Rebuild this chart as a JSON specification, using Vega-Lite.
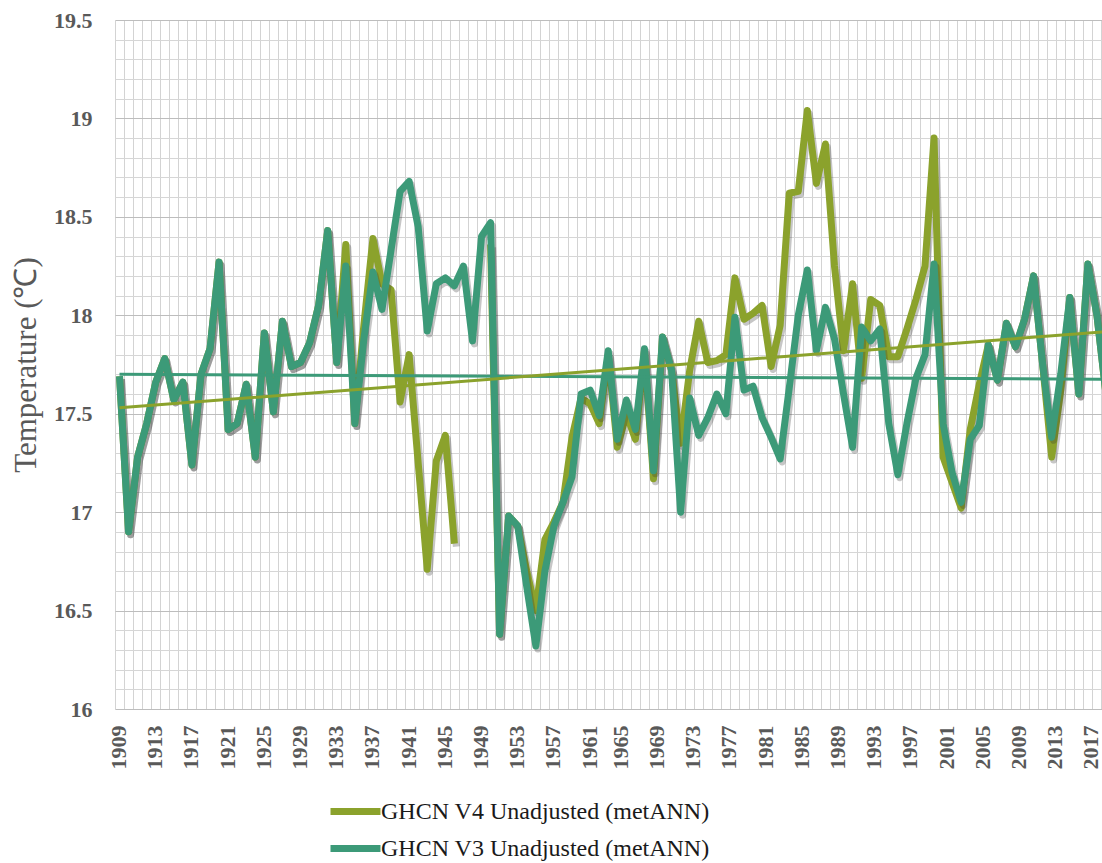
{
  "$schema": "https://vega.github.io/schema/vega-lite/v6.json",
  "width": 987,
  "height": 689,
  "autosize": {"type": "none"},
  "padding": {"left": 115, "top": 20, "right": 0, "bottom": 154},
  "background": "white",
  "data": {"values": [
    {"year": 1909, "v3": 17.69, "v4": 17.69},
    {"year": 1910, "v3": 16.90, "v4": 16.90},
    {"year": 1911, "v3": 17.28, "v4": 17.28},
    {"year": 1912, "v3": 17.45, "v4": 17.45},
    {"year": 1913, "v3": 17.66, "v4": 17.66},
    {"year": 1914, "v3": 17.78, "v4": 17.78},
    {"year": 1915, "v3": 17.57, "v4": 17.57},
    {"year": 1916, "v3": 17.66, "v4": 17.66},
    {"year": 1917, "v3": 17.24, "v4": 17.24},
    {"year": 1918, "v3": 17.70, "v4": 17.70},
    {"year": 1919, "v3": 17.83, "v4": 17.83},
    {"year": 1920, "v3": 18.27, "v4": 18.27},
    {"year": 1921, "v3": 17.42, "v4": 17.42},
    {"year": 1922, "v3": 17.45, "v4": 17.45},
    {"year": 1923, "v3": 17.65, "v4": 17.65},
    {"year": 1924, "v3": 17.28, "v4": 17.28},
    {"year": 1925, "v3": 17.91, "v4": 17.91},
    {"year": 1926, "v3": 17.51, "v4": 17.51},
    {"year": 1927, "v3": 17.97, "v4": 17.97},
    {"year": 1928, "v3": 17.74, "v4": 17.74},
    {"year": 1929, "v3": 17.76, "v4": 17.76},
    {"year": 1930, "v3": 17.86, "v4": 17.86},
    {"year": 1931, "v3": 18.05, "v4": 18.05},
    {"year": 1932, "v3": 18.43, "v4": 18.43},
    {"year": 1933, "v3": 17.76, "v4": 17.76},
    {"year": 1934, "v3": 18.25, "v4": 18.36},
    {"year": 1935, "v3": 17.45, "v4": 17.45},
    {"year": 1936, "v3": 17.88, "v4": 17.95},
    {"year": 1937, "v3": 18.22, "v4": 18.39},
    {"year": 1938, "v3": 18.03, "v4": 18.16},
    {"year": 1939, "v3": 18.33, "v4": 18.13},
    {"year": 1940, "v3": 18.63, "v4": 17.56},
    {"year": 1941, "v3": 18.68, "v4": 17.80},
    {"year": 1942, "v3": 18.45, "v4": 17.25},
    {"year": 1943, "v3": 17.92, "v4": 16.71},
    {"year": 1944, "v3": 18.16, "v4": 17.26},
    {"year": 1945, "v3": 18.19, "v4": 17.39},
    {"year": 1946, "v3": 18.15, "v4": 16.84},
    {"year": 1947, "v3": 18.25, "v4": null},
    {"year": 1948, "v3": 17.87, "v4": null},
    {"year": 1949, "v3": 18.40, "v4": null},
    {"year": 1950, "v3": 18.47, "v4": 18.36},
    {"year": 1951, "v3": 16.38, "v4": 16.38},
    {"year": 1952, "v3": 16.98, "v4": 16.98},
    {"year": 1953, "v3": 16.93, "v4": 16.93},
    {"year": 1954, "v3": 16.62, "v4": 16.70},
    {"year": 1955, "v3": 16.32, "v4": 16.50},
    {"year": 1956, "v3": 16.70, "v4": 16.86},
    {"year": 1957, "v3": 16.93, "v4": 16.95},
    {"year": 1958, "v3": 17.05, "v4": 17.05},
    {"year": 1959, "v3": 17.18, "v4": 17.38},
    {"year": 1960, "v3": 17.60, "v4": 17.58},
    {"year": 1961, "v3": 17.62, "v4": 17.55},
    {"year": 1962, "v3": 17.49, "v4": 17.45},
    {"year": 1963, "v3": 17.82, "v4": 17.80},
    {"year": 1964, "v3": 17.37, "v4": 17.33},
    {"year": 1965, "v3": 17.57, "v4": 17.50},
    {"year": 1966, "v3": 17.42, "v4": 17.37},
    {"year": 1967, "v3": 17.83, "v4": 17.82},
    {"year": 1968, "v3": 17.21, "v4": 17.17},
    {"year": 1969, "v3": 17.89, "v4": 17.89},
    {"year": 1970, "v3": 17.72, "v4": 17.72},
    {"year": 1971, "v3": 17.00, "v4": 17.35},
    {"year": 1972, "v3": 17.58, "v4": 17.72},
    {"year": 1973, "v3": 17.39, "v4": 17.97},
    {"year": 1974, "v3": 17.48, "v4": 17.76},
    {"year": 1975, "v3": 17.60, "v4": 17.77},
    {"year": 1976, "v3": 17.50, "v4": 17.80},
    {"year": 1977, "v3": 17.99, "v4": 18.19},
    {"year": 1978, "v3": 17.62, "v4": 17.98},
    {"year": 1979, "v3": 17.64, "v4": 18.01},
    {"year": 1980, "v3": 17.48, "v4": 18.05},
    {"year": 1981, "v3": 17.38, "v4": 17.74},
    {"year": 1982, "v3": 17.27, "v4": 17.95},
    {"year": 1983, "v3": 17.63, "v4": 18.62},
    {"year": 1984, "v3": 18.00, "v4": 18.63},
    {"year": 1985, "v3": 18.23, "v4": 19.04},
    {"year": 1986, "v3": 17.82, "v4": 18.67},
    {"year": 1987, "v3": 18.04, "v4": 18.87},
    {"year": 1988, "v3": 17.88, "v4": 18.25},
    {"year": 1989, "v3": 17.60, "v4": 17.82},
    {"year": 1990, "v3": 17.33, "v4": 18.16},
    {"year": 1991, "v3": 17.94, "v4": 17.68},
    {"year": 1992, "v3": 17.87, "v4": 18.08},
    {"year": 1993, "v3": 17.93, "v4": 18.05},
    {"year": 1994, "v3": 17.45, "v4": 17.79},
    {"year": 1995, "v3": 17.19, "v4": 17.79},
    {"year": 1996, "v3": 17.45, "v4": 17.93},
    {"year": 1997, "v3": 17.68, "v4": 18.08},
    {"year": 1998, "v3": 17.80, "v4": 18.25},
    {"year": 1999, "v3": 18.26, "v4": 18.90},
    {"year": 2000, "v3": 17.45, "v4": 17.28},
    {"year": 2001, "v3": 17.20, "v4": 17.15},
    {"year": 2002, "v3": 17.05, "v4": 17.02},
    {"year": 2003, "v3": 17.37, "v4": 17.42},
    {"year": 2004, "v3": 17.44, "v4": 17.65},
    {"year": 2005, "v3": 17.85, "v4": 17.85},
    {"year": 2006, "v3": 17.67, "v4": 17.67},
    {"year": 2007, "v3": 17.96, "v4": 17.96},
    {"year": 2008, "v3": 17.84, "v4": 17.84},
    {"year": 2009, "v3": 17.98, "v4": 17.98},
    {"year": 2010, "v3": 18.20, "v4": 18.20},
    {"year": 2011, "v3": 17.75, "v4": 17.75},
    {"year": 2012, "v3": 17.38, "v4": 17.28},
    {"year": 2013, "v3": 17.70, "v4": 17.62},
    {"year": 2014, "v3": 18.09, "v4": 18.09},
    {"year": 2015, "v3": 17.60, "v4": 17.60},
    {"year": 2016, "v3": 18.26, "v4": 18.26},
    {"year": 2017, "v3": 18.00, "v4": 18.00},
    {"year": 2018, "v3": 17.60, "v4": 17.60}
  ]},
  "encoding": {
    "x": {
      "field": "year",
      "type": "quantitative",
      "scale": {"domain": [1908.5, 2017.56], "nice": false, "zero": false},
      "axis": {
        "orient": "bottom",
        "tickCount": 218,
        "grid": true,
        "gridColor": "#d3d3d3",
        "gridOpacity": {"condition": {"test": "datum.value % 1 != 0", "value": 1}, "value": 0},
        "domain": false,
        "ticks": false,
        "labelExpr": "datum.value % 4 == 1 ? format(datum.value, 'd') : ''",
        "labelAngle": -90,
        "labelAlign": "right",
        "labelBaseline": "middle",
        "labelPadding": 16,
        "labelOffset": {"condition": {"test": "datum.value > 1962", "value": -6}, "value": -1},
        "labelFont": "Liberation Serif",
        "labelFontSize": 22,
        "labelFontWeight": "bold",
        "labelColor": "#595959",
        "labelOverlap": false,
        "labelFlush": false,
        "labelBound": false,
        "title": null
      }
    }
  },
  "layer": [
    {
      "mark": {"type": "line", "color": "#333333", "opacity": 0.28, "strokeWidth": 7, "xOffset": 2, "yOffset": 3, "strokeJoin": "round", "clip": true, "invalid": "break-paths-show-domains"},
      "encoding": {
        "y": {
          "field": "v4", "type": "quantitative",
          "scale": {"domain": [16, 19.5], "nice": false, "zero": false},
          "axis": {"values": [16, 16.1, 16.2, 16.3, 16.4, 16.5, 16.6, 16.7, 16.8, 16.9, 17, 17.1, 17.2, 17.3, 17.4, 17.5, 17.6, 17.7, 17.8, 17.9, 18, 18.1, 18.2, 18.3, 18.4, 18.5, 18.6, 18.7, 18.8, 18.9, 19, 19.1, 19.2, 19.3, 19.4, 19.5], "grid": true, "gridColor": {"condition": {"test": "datum.value * 2 == floor(datum.value * 2)", "value": "#bdbdbd"}, "value": "#d6d6d6"}, "domain": false, "ticks": false, "labelExpr": "datum.value * 2 == floor(datum.value * 2) ? format(datum.value, '~g') : ''", "labelPadding": 23, "labelFont": "Liberation Serif", "labelFontSize": 22, "labelFontWeight": "bold", "labelColor": "#595959", "labelOverlap": false, "labelFlush": false, "labelBound": false, "title": "Temperature (℃)", "titleFont": "Liberation Serif", "titleFontSize": 31, "titleFontWeight": "normal", "titleColor": "#595959", "titlePadding": 11}
        }
      }
    },
    {
      "mark": {"type": "line", "strokeWidth": 7, "strokeJoin": "round", "clip": true, "invalid": "break-paths-show-domains"},
      "encoding": {
        "y": {
          "field": "v4", "type": "quantitative",
          "scale": {"domain": [16, 19.5], "nice": false, "zero": false},
          "axis": {"values": [16, 16.1, 16.2, 16.3, 16.4, 16.5, 16.6, 16.7, 16.8, 16.9, 17, 17.1, 17.2, 17.3, 17.4, 17.5, 17.6, 17.7, 17.8, 17.9, 18, 18.1, 18.2, 18.3, 18.4, 18.5, 18.6, 18.7, 18.8, 18.9, 19, 19.1, 19.2, 19.3, 19.4, 19.5], "grid": true, "gridColor": {"condition": {"test": "datum.value * 2 == floor(datum.value * 2)", "value": "#bdbdbd"}, "value": "#d6d6d6"}, "domain": false, "ticks": false, "labelExpr": "datum.value * 2 == floor(datum.value * 2) ? format(datum.value, '~g') : ''", "labelPadding": 23, "labelFont": "Liberation Serif", "labelFontSize": 22, "labelFontWeight": "bold", "labelColor": "#595959", "labelOverlap": false, "labelFlush": false, "labelBound": false, "title": "Temperature (℃)", "titleFont": "Liberation Serif", "titleFontSize": 31, "titleFontWeight": "normal", "titleColor": "#595959", "titlePadding": 11}
        },
        "color": {
          "datum": "GHCN V4 Unadjusted (metANN)",
          "type": "nominal",
          "scale": {"domain": ["GHCN V4 Unadjusted (metANN)", "\u00a0GHCN V3 Unadjusted (metANN)"], "range": ["#8BA22C", "#3C9A78"]},
          "legend": {
            "orient": "none",
            "legendX": 227,
            "legendY": 778,
            "direction": "vertical",
            "title": null,
            "symbolType": "M-2.5,0H2.5",
            "symbolSize": 400,
            "symbolStrokeWidth": 7,
            "labelFont": "Liberation Serif",
            "labelFontSize": 24,
            "labelColor": "#1a1a1a",
            "labelOffset": 12,
            "rowPadding": 8,
            "labelLimit": 1000
          }
        }
      }
    },
    {
      "mark": {"type": "line", "color": "#333333", "opacity": 0.28, "strokeWidth": 7, "xOffset": 2, "yOffset": 3, "strokeJoin": "round", "clip": true},
      "encoding": {
        "y": {
          "field": "v3", "type": "quantitative",
          "scale": {"domain": [16, 19.5], "nice": false, "zero": false},
          "axis": {"values": [16, 16.1, 16.2, 16.3, 16.4, 16.5, 16.6, 16.7, 16.8, 16.9, 17, 17.1, 17.2, 17.3, 17.4, 17.5, 17.6, 17.7, 17.8, 17.9, 18, 18.1, 18.2, 18.3, 18.4, 18.5, 18.6, 18.7, 18.8, 18.9, 19, 19.1, 19.2, 19.3, 19.4, 19.5], "grid": true, "gridColor": {"condition": {"test": "datum.value * 2 == floor(datum.value * 2)", "value": "#bdbdbd"}, "value": "#d6d6d6"}, "domain": false, "ticks": false, "labelExpr": "datum.value * 2 == floor(datum.value * 2) ? format(datum.value, '~g') : ''", "labelPadding": 23, "labelFont": "Liberation Serif", "labelFontSize": 22, "labelFontWeight": "bold", "labelColor": "#595959", "labelOverlap": false, "labelFlush": false, "labelBound": false, "title": "Temperature (℃)", "titleFont": "Liberation Serif", "titleFontSize": 31, "titleFontWeight": "normal", "titleColor": "#595959", "titlePadding": 11}
        }
      }
    },
    {
      "mark": {"type": "line", "strokeWidth": 7, "strokeJoin": "round", "clip": true},
      "encoding": {
        "y": {
          "field": "v3", "type": "quantitative",
          "scale": {"domain": [16, 19.5], "nice": false, "zero": false},
          "axis": {"values": [16, 16.1, 16.2, 16.3, 16.4, 16.5, 16.6, 16.7, 16.8, 16.9, 17, 17.1, 17.2, 17.3, 17.4, 17.5, 17.6, 17.7, 17.8, 17.9, 18, 18.1, 18.2, 18.3, 18.4, 18.5, 18.6, 18.7, 18.8, 18.9, 19, 19.1, 19.2, 19.3, 19.4, 19.5], "grid": true, "gridColor": {"condition": {"test": "datum.value * 2 == floor(datum.value * 2)", "value": "#bdbdbd"}, "value": "#d6d6d6"}, "domain": false, "ticks": false, "labelExpr": "datum.value * 2 == floor(datum.value * 2) ? format(datum.value, '~g') : ''", "labelPadding": 23, "labelFont": "Liberation Serif", "labelFontSize": 22, "labelFontWeight": "bold", "labelColor": "#595959", "labelOverlap": false, "labelFlush": false, "labelBound": false, "title": "Temperature (℃)", "titleFont": "Liberation Serif", "titleFontSize": 31, "titleFontWeight": "normal", "titleColor": "#595959", "titlePadding": 11}
        },
        "color": {"datum": "\u00a0GHCN V3 Unadjusted (metANN)", "type": "nominal"}
      }
    },
    {
      "data": {"values": [
        {"year": 1909, "t4": 17.53, "t3": 17.70},
        {"year": 2018, "t4": 17.917, "t3": 17.675}
      ]},
      "layer": [
        {
          "mark": {"type": "line", "color": "#3C9A78", "strokeWidth": 3, "clip": true},
          "encoding": {
            "y": {
              "field": "t3", "type": "quantitative",
              "scale": {"domain": [16, 19.5], "nice": false, "zero": false},
              "axis": {"values": [16, 16.1, 16.2, 16.3, 16.4, 16.5, 16.6, 16.7, 16.8, 16.9, 17, 17.1, 17.2, 17.3, 17.4, 17.5, 17.6, 17.7, 17.8, 17.9, 18, 18.1, 18.2, 18.3, 18.4, 18.5, 18.6, 18.7, 18.8, 18.9, 19, 19.1, 19.2, 19.3, 19.4, 19.5], "grid": true, "gridColor": {"condition": {"test": "datum.value * 2 == floor(datum.value * 2)", "value": "#bdbdbd"}, "value": "#d6d6d6"}, "domain": false, "ticks": false, "labelExpr": "datum.value * 2 == floor(datum.value * 2) ? format(datum.value, '~g') : ''", "labelPadding": 23, "labelFont": "Liberation Serif", "labelFontSize": 22, "labelFontWeight": "bold", "labelColor": "#595959", "labelOverlap": false, "labelFlush": false, "labelBound": false, "title": "Temperature (℃)", "titleFont": "Liberation Serif", "titleFontSize": 31, "titleFontWeight": "normal", "titleColor": "#595959", "titlePadding": 11}
            }
          }
        },
        {
          "mark": {"type": "line", "color": "#8BA22C", "strokeWidth": 3, "clip": true},
          "encoding": {
            "y": {
              "field": "t4", "type": "quantitative",
              "scale": {"domain": [16, 19.5], "nice": false, "zero": false},
              "axis": {"values": [16, 16.1, 16.2, 16.3, 16.4, 16.5, 16.6, 16.7, 16.8, 16.9, 17, 17.1, 17.2, 17.3, 17.4, 17.5, 17.6, 17.7, 17.8, 17.9, 18, 18.1, 18.2, 18.3, 18.4, 18.5, 18.6, 18.7, 18.8, 18.9, 19, 19.1, 19.2, 19.3, 19.4, 19.5], "grid": true, "gridColor": {"condition": {"test": "datum.value * 2 == floor(datum.value * 2)", "value": "#bdbdbd"}, "value": "#d6d6d6"}, "domain": false, "ticks": false, "labelExpr": "datum.value * 2 == floor(datum.value * 2) ? format(datum.value, '~g') : ''", "labelPadding": 23, "labelFont": "Liberation Serif", "labelFontSize": 22, "labelFontWeight": "bold", "labelColor": "#595959", "labelOverlap": false, "labelFlush": false, "labelBound": false, "title": "Temperature (℃)", "titleFont": "Liberation Serif", "titleFontSize": 31, "titleFontWeight": "normal", "titleColor": "#595959", "titlePadding": 11}
            }
          }
        }
      ]
    }
  ],
  "config": {
    "view": {"stroke": null},
    "font": "Liberation Serif"
  }
}
